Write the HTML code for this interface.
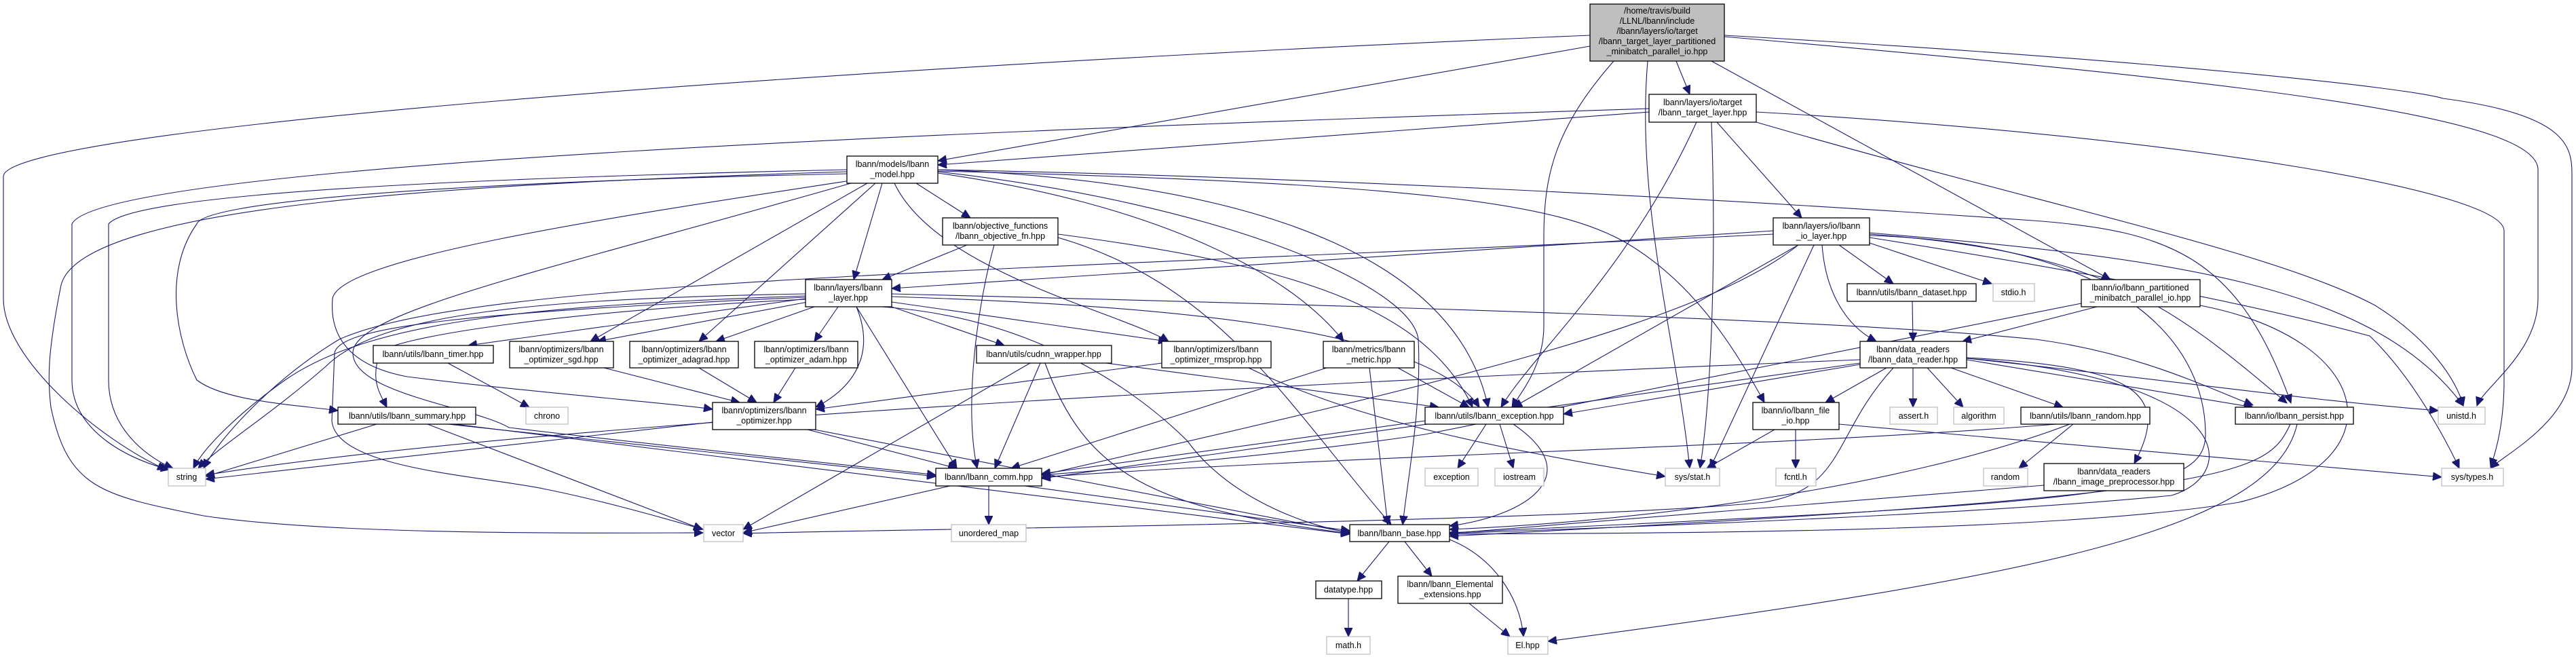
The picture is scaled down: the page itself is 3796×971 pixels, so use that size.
<!DOCTYPE html>
<html><head><meta charset="utf-8"><style>
html,body{margin:0;padding:0;background:#fff;}
svg{display:block;}
text{font-family:"Liberation Sans",sans-serif;font-size:12.5px;fill:#000;text-anchor:middle;}
.n{fill:#fff;stroke:#000;stroke-width:1.3;}
.g{fill:#fff;stroke:#bfbfbf;stroke-width:1.3;}
.e{fill:none;stroke:#191970;stroke-width:1.1;marker-end:url(#a);}
</style></head><body>
<svg width="3796" height="971" viewBox="0 0 3796 971" xmlns="http://www.w3.org/2000/svg">
<defs><marker id="a" markerUnits="userSpaceOnUse" markerWidth="14" markerHeight="12" refX="13" refY="6" orient="auto"><path d="M0,0 L13,6 L0,12 z" fill="#191970" stroke="#191970"/></marker></defs>
<g>
<!-- top node edges -->
<path class="e" d="M2343,68 L1382,237"/>
<path class="e" d="M2343,52 C1200,100 5,190 5,260 L5,440 C5,530 150,650 245,692"/>
<path class="e" d="M2470,90 L2490,139"/>
<path class="e" d="M2378,90 C2290,190 2275,260 2275,350 L2275,480 C2275,540 2240,580 2228,600"/>
<path class="e" d="M2428,90 C2410,300 2470,500 2490,690"/>
<path class="e" d="M2522,90 L3110,412"/>
<path class="e" d="M2541,54 C3300,120 3740,170 3740,250 L3740,440 C3740,520 3660,570 3650,598"/>
<path class="e" d="M2541,52 C3200,90 3550,130 3600,145 C3790,170 3790,220 3790,260 L3790,540 C3790,620 3690,670 3670,690"/>
<!-- target layer -->
<path class="e" d="M2430,165 L1382,243"/>
<path class="e" d="M2430,160 C1500,190 150,240 106,330 L106,560 C106,640 200,680 250,692"/>
<path class="e" d="M2530,180 L2655,321"/>
<path class="e" d="M2500,180 C2400,400 2260,520 2212,600"/>
<path class="e" d="M2522,180 C2530,400 2520,600 2505,690"/>
<path class="e" d="M2588,165 C3200,200 3690,280 3690,340 L3690,560 C3690,620 3680,660 3670,688"/>
<path class="e" d="M2588,180 C3000,300 3350,370 3500,450 C3580,500 3620,560 3630,598"/>
<!-- model -->
<path class="e" d="M1248,250 C800,260 200,280 160,330 L160,560 C160,640 230,680 255,690"/>
<path class="e" d="M1248,253 C700,270 120,300 90,420 C70,520 70,560 75,600 C100,720 150,730 300,760 C500,790 900,785 1036,785"/>
<path class="e" d="M1248,256 C600,270 300,300 290,330 C240,400 260,500 290,560 C330,590 420,595 498,605"/>
<path class="e" d="M1260,265 C900,320 500,380 490,440 C485,500 520,540 600,555 C800,580 1000,595 1050,603"/>
<path class="e" d="M1268,266 C800,400 520,460 520,520 C520,580 700,600 750,630 C1000,660 1300,690 1379,700"/>
<path class="e" d="M1300,270 L1258,412"/>
<path class="e" d="M1278,270 L870,503"/>
<path class="e" d="M1290,270 L1030,503"/>
<path class="e" d="M1350,270 L1430,321"/>
<path class="e" d="M1318,270 C1380,400 1650,460 1722,503"/>
<path class="e" d="M1382,255 C1700,300 1900,400 1980,503"/>
<path class="e" d="M1382,253 C1800,300 2080,420 2090,500 C2095,600 2075,700 2067,773"/>
<path class="e" d="M1382,250 C1900,270 2150,400 2193,600"/>
<path class="e" d="M1382,252 C2100,270 2300,300 2400,360 C2500,420 2560,520 2600,593"/>
<path class="e" d="M1382,250 C1900,260 2500,290 2996,325 C3200,340 3300,380 3376,594"/>
<!-- layer -->
<path class="e" d="M1187,440 L690,509"/>
<path class="e" d="M1190,445 L880,503"/>
<path class="e" d="M1200,452 L1055,503"/>
<path class="e" d="M1235,452 L1200,503"/>
<path class="e" d="M1262,452 C1290,520 1260,570 1202,600"/>
<path class="e" d="M1187,436 C800,450 550,470 420,560 C350,610 300,660 285,690"/>
<path class="e" d="M1187,433 C800,440 560,460 480,540 C400,610 320,660 292,690"/>
<path class="e" d="M1187,438 C700,460 500,480 493,520 L489,620 C495,690 700,700 800,720 C900,740 1000,770 1036,780"/>
<path class="e" d="M1187,441 C800,460 570,500 560,520 C545,560 560,580 570,600"/>
<path class="e" d="M1262,452 L1410,690"/>
<path class="e" d="M1300,452 C1550,470 1700,600 1750,650 C1800,720 1900,770 1990,785"/>
<path class="e" d="M1314,452 L1480,509"/>
<path class="e" d="M1314,445 L1720,503"/>
<path class="e" d="M1314,437 C1700,450 2100,480 2180,600"/>
<path class="e" d="M1314,433 C2000,450 2700,470 3000,500 C3150,520 3250,570 3320,597"/>
<!-- objective fn -->
<path class="e" d="M1425,361 L1300,412"/>
<path class="e" d="M1465,361 C1440,450 1420,600 1440,690"/>
<path class="e" d="M1559,350 C1800,420 1900,600 2050,773"/>
<path class="e" d="M1559,345 C1900,390 2100,450 2170,600"/>
<!-- io layer -->
<path class="e" d="M2613,340 L1314,425"/>
<path class="e" d="M2613,345 C1500,400 700,410 500,500 C400,560 320,650 300,690"/>
<path class="e" d="M2710,361 L2790,418"/>
<path class="e" d="M2755,358 L2935,418"/>
<path class="e" d="M2685,361 C2690,430 2720,480 2765,503"/>
<path class="e" d="M2650,361 C2500,480 2100,570 1535,700"/>
<path class="e" d="M2650,361 L2230,600"/>
<path class="e" d="M2673,361 L2520,690"/>
<path class="e" d="M2755,345 C3100,370 3200,450 3370,594"/>
<path class="e" d="M2755,343 C3200,380 3500,420 3630,598"/>
<path class="e" d="M2755,350 C3200,420 3400,470 3492,495 C3560,560 3610,660 3624,690"/>
<path class="e" d="M2755,347 C3150,360 3250,520 3250,640 C3250,730 3100,740 2136,785"/>
<!-- partitioned -->
<path class="e" d="M3090,452 L2892,503"/>
<path class="e" d="M3067,447 C2700,520 2500,560 2100,640 C1900,670 1600,695 1535,700"/>
<path class="e" d="M3242,450 C3500,500 3540,680 3300,740 C3000,790 2300,785 2136,787"/>
<!-- data reader -->
<path class="e" d="M2741,530 C2000,560 800,620 303,700"/>
<path class="e" d="M2741,535 L1535,705"/>
<path class="e" d="M2741,537 L2304,610"/>
<path class="e" d="M2780,542 L2690,593"/>
<path class="e" d="M2819,542 L2819,600"/>
<path class="e" d="M2840,542 L2893,600"/>
<path class="e" d="M2875,542 L3040,600"/>
<path class="e" d="M2898,530 L3320,600"/>
<path class="e" d="M2898,528 C3200,560 3400,590 3593,605"/>
<path class="e" d="M2898,527 C3150,540 3200,580 3145,683"/>
<path class="e" d="M2790,542 C2700,640 2720,720 2600,740 C2300,770 1300,780 1095,786"/>
<path class="e" d="M2898,528 C3300,560 3300,700 3200,730 C2900,760 2300,780 2136,786"/>
<!-- misc -->
<path class="e" d="M2818,444 L2819,503"/>
<path class="e" d="M660,535 L780,600"/>
<path class="e" d="M890,542 L1090,593"/>
<path class="e" d="M1030,542 L1115,593"/>
<path class="e" d="M1172,542 L1140,593"/>
<path class="e" d="M555,625 L303,702"/>
<path class="e" d="M630,625 L1035,780"/>
<path class="e" d="M660,625 L1379,702"/>
<path class="e" d="M670,625 L1989,787"/>
<path class="e" d="M1050,622 L303,706"/>
<path class="e" d="M1190,633 L1410,690"/>
<path class="e" d="M1200,633 L1989,785"/>
<path class="e" d="M1712,535 L1202,603"/>
<path class="e" d="M1518,535 L1095,780"/>
<path class="e" d="M1533,535 L1466,690"/>
<path class="e" d="M1540,535 C1600,700 1700,750 1989,786"/>
<path class="e" d="M1630,535 L2120,600"/>
<path class="e" d="M1840,542 C2000,620 2200,660 2454,702"/>
<path class="e" d="M1955,542 L1490,690"/>
<path class="e" d="M2018,542 L2045,773"/>
<path class="e" d="M2060,542 L2165,600"/>
<path class="e" d="M2190,625 L2148,690"/>
<path class="e" d="M2210,625 L2230,690"/>
<path class="e" d="M2230,625 C2340,700 2250,760 2136,775"/>
<path class="e" d="M2100,620 L1535,698"/>
<path class="e" d="M1400,716 L1095,785"/>
<path class="e" d="M1457,716 L1457,773"/>
<path class="e" d="M1510,716 L1989,782"/>
<path class="e" d="M2615,633 L2515,690"/>
<path class="e" d="M2646,633 L2646,690"/>
<path class="e" d="M2710,625 L3598,703"/>
<path class="e" d="M3030,625 C2600,660 2000,670 1535,703"/>
<path class="e" d="M3055,625 L2975,690"/>
<path class="e" d="M3050,625 C2800,720 2400,770 2136,780"/>
<path class="e" d="M3012,715 L2136,786"/>
<path class="e" d="M3375,625 C3340,700 3300,730 2136,790"/>
<path class="e" d="M3385,625 C3350,780 3000,850 2281,945"/>
<path class="e" d="M2047,798 L2000,856"/>
<path class="e" d="M2070,798 L2110,849"/>
<path class="e" d="M2136,795 C2200,820 2240,880 2245,938"/>
<path class="e" d="M1987,882 L1987,938"/>
<path class="e" d="M2165,889 L2225,938"/>
</g>
<g>
<!-- nodes -->
<rect x="2343" y="6" width="198" height="84" fill="#bfbfbf" stroke="#000" stroke-width="1.3"/>
<text x="2442" y="20">/home/travis/build</text><text x="2442" y="35">/LLNL/lbann/include</text><text x="2442" y="50">/lbann/layers/io/target</text><text x="2442" y="65">/lbann_target_layer_partitioned</text><text x="2442" y="80">_minibatch_parallel_io.hpp</text>

<rect class="n" x="2430" y="139" width="158" height="41"/><text x="2509" y="155">lbann/layers/io/target</text><text x="2509" y="170">/lbann_target_layer.hpp</text>
<rect class="n" x="1248" y="230" width="134" height="40"/><text x="1315" y="246">lbann/models/lbann</text><text x="1315" y="261">_model.hpp</text>
<rect class="n" x="1389" y="321" width="170" height="40"/><text x="1474" y="337">lbann/objective_functions</text><text x="1474" y="352">/lbann_objective_fn.hpp</text>
<rect class="n" x="2613" y="321" width="142" height="40"/><text x="2684" y="337">lbann/layers/io/lbann</text><text x="2684" y="352">_io_layer.hpp</text>
<rect class="n" x="1187" y="412" width="127" height="40"/><text x="1250" y="428">lbann/layers/lbann</text><text x="1250" y="443">_layer.hpp</text>
<rect class="n" x="2722" y="418" width="190" height="26"/><text x="2817" y="435">lbann/utils/lbann_dataset.hpp</text>
<rect class="g" x="2937" y="418" width="61" height="26"/><text x="2967" y="435">stdio.h</text>
<rect class="n" x="3067" y="412" width="175" height="40"/><text x="3154" y="428">lbann/io/lbann_partitioned</text><text x="3154" y="443">_minibatch_parallel_io.hpp</text>
<rect class="n" x="550" y="509" width="177" height="26"/><text x="638" y="526">lbann/utils/lbann_timer.hpp</text>
<rect class="n" x="751" y="503" width="153" height="39"/><text x="827" y="519">lbann/optimizers/lbann</text><text x="827" y="534">_optimizer_sgd.hpp</text>
<rect class="n" x="928" y="503" width="160" height="39"/><text x="1008" y="519">lbann/optimizers/lbann</text><text x="1008" y="534">_optimizer_adagrad.hpp</text>
<rect class="n" x="1112" y="503" width="152" height="39"/><text x="1188" y="519">lbann/optimizers/lbann</text><text x="1188" y="534">_optimizer_adam.hpp</text>
<rect class="n" x="1439" y="509" width="199" height="26"/><text x="1538" y="526">lbann/utils/cudnn_wrapper.hpp</text>
<rect class="n" x="1712" y="503" width="161" height="39"/><text x="1792" y="519">lbann/optimizers/lbann</text><text x="1792" y="534">_optimizer_rmsprop.hpp</text>
<rect class="n" x="1950" y="503" width="134" height="39"/><text x="2017" y="519">lbann/metrics/lbann</text><text x="2017" y="534">_metric.hpp</text>
<rect class="n" x="2741" y="503" width="157" height="39"/><text x="2819" y="519">lbann/data_readers</text><text x="2819" y="534">/lbann_data_reader.hpp</text>
<rect class="n" x="498" y="600" width="203" height="25"/><text x="600" y="617">lbann/utils/lbann_summary.hpp</text>
<rect class="g" x="775" y="600" width="62" height="25"/><text x="806" y="617">chrono</text>
<rect class="n" x="1050" y="593" width="152" height="40"/><text x="1126" y="609">lbann/optimizers/lbann</text><text x="1126" y="624">_optimizer.hpp</text>
<rect class="n" x="2100" y="600" width="204" height="25"/><text x="2202" y="617">lbann/utils/lbann_exception.hpp</text>
<rect class="n" x="2583" y="593" width="127" height="40"/><text x="2646" y="609">lbann/io/lbann_file</text><text x="2646" y="624">_io.hpp</text>
<rect class="g" x="2785" y="600" width="70" height="25"/><text x="2820" y="617">assert.h</text>
<rect class="g" x="2879" y="600" width="74" height="25"/><text x="2916" y="617">algorithm</text>
<rect class="n" x="2978" y="600" width="190" height="25"/><text x="3073" y="617">lbann/utils/lbann_random.hpp</text>
<rect class="n" x="3294" y="600" width="174" height="25"/><text x="3381" y="617">lbann/io/lbann_persist.hpp</text>
<rect class="g" x="3593" y="600" width="69" height="25"/><text x="3627" y="617">unistd.h</text>
<rect class="g" x="248" y="690" width="55" height="26"/><text x="275" y="707">string</text>
<rect class="n" x="1379" y="690" width="156" height="26"/><text x="1457" y="707">lbann/lbann_comm.hpp</text>
<rect class="g" x="2100" y="690" width="78" height="26"/><text x="2139" y="707">exception</text>
<rect class="g" x="2203" y="690" width="72" height="26"/><text x="2239" y="707">iostream</text>
<rect class="g" x="2454" y="690" width="80" height="26"/><text x="2494" y="707">sys/stat.h</text>
<rect class="g" x="2617" y="690" width="59" height="26"/><text x="2646" y="707">fcntl.h</text>
<rect class="g" x="2923" y="690" width="65" height="26"/><text x="2955" y="707">random</text>
<rect class="n" x="3012" y="683" width="206" height="40"/><text x="3115" y="699">lbann/data_readers</text><text x="3115" y="714">/lbann_image_preprocessor.hpp</text>
<rect class="g" x="3598" y="690" width="91" height="26"/><text x="3643" y="707">sys/types.h</text>
<rect class="g" x="1037" y="773" width="58" height="25"/><text x="1066" y="790">vector</text>
<rect class="g" x="1402" y="773" width="110" height="25"/><text x="1457" y="790">unordered_map</text>
<rect class="n" x="1989" y="773" width="147" height="25"/><text x="2062" y="790">lbann/lbann_base.hpp</text>
<rect class="n" x="1939" y="856" width="97" height="26"/><text x="1987" y="873">datatype.hpp</text>
<rect class="n" x="2060" y="849" width="154" height="40"/><text x="2137" y="865">lbann/lbann_Elemental</text><text x="2137" y="880">_extensions.hpp</text>
<rect class="g" x="1955" y="938" width="64" height="26"/><text x="1987" y="955">math.h</text>
<rect class="g" x="2222" y="938" width="59" height="26"/><text x="2251" y="955">El.hpp</text>
</g>
</svg>
</body></html>
